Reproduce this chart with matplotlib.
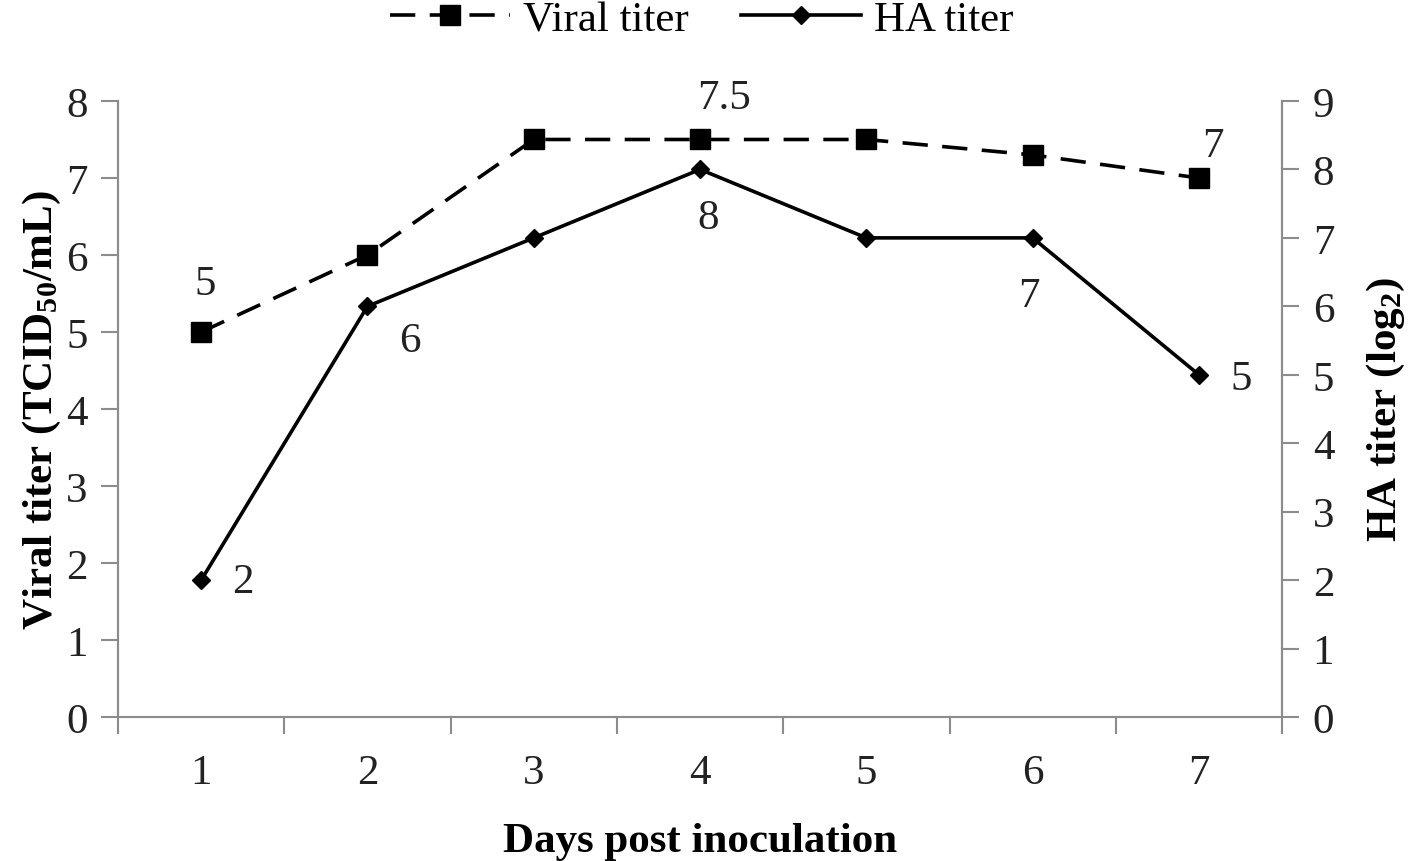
import matplotlib
matplotlib.use('Agg')
import matplotlib.pyplot as plt

plt.rcParams['font.family'] = ['Liberation Serif', 'DejaVu Serif']
plt.rcParams['mathtext.fontset'] = 'custom'
plt.rcParams['mathtext.rm'] = 'Liberation Serif:bold'
plt.rcParams['mathtext.it'] = 'Liberation Serif:bold'
plt.rcParams['mathtext.bf'] = 'Liberation Serif:bold'

# 数据 ---------------------------------------------------------
days = [1, 2, 3, 4, 5, 6, 7]
viral_titer = [5, 6, 7.5, 7.5, 7.5, 7.3, 7]
ha_titer = [2, 6, 7, 8, 7, 7, 5]

# 标注：(索引, 文本, 偏移px)
viral_notes = [(0, '5', (4, 48)), (3, '7.5', (24, 42)), (6, '7', (14, 32))]
ha_notes = [(0, '2', (42, -2)), (1, '6', (42, -34)), (3, '8', (8, -48)),
            (5, '7', (-4, -58)), (6, '5', (42, -4))]

fs = 31
gray = '#8c8c8c'
txt = '#222222'

fig = plt.figure(figsize=(14.12, 8.62), dpi=100)
ax = fig.add_axes([0.0836, 0.167, 0.8244, 0.7147])
ax2 = ax.twinx()

l1, = ax.plot(days, viral_titer, color='black', lw=2.6, ls=(0, (7, 4)),
              marker='s', ms=14, label='Viral titer')
l2, = ax2.plot(days, ha_titer, color='black', lw=2.6, ls='-',
               marker='D', ms=9, label='HA titer')

ax.set_xlim(0.5, 7.5)
ax.set_ylim(0, 8)
ax2.set_ylim(0, 9)
ax.set_yticks(range(0, 9))
ax2.set_yticks(range(0, 10))
ax.set_xticks(days)
ax.set_xticks([d + 0.5 for d in [0] + days], minor=True)

for a in (ax, ax2):
    for s in a.spines.values():
        s.set_color(gray)
        s.set_linewidth(1.5)
    a.spines['top'].set_visible(False)
    a.tick_params(axis='both', colors=gray, labelcolor=txt, labelsize=fs,
                  width=1.5, length=12, direction='out')

ax.tick_params(axis='x', which='major', length=0, pad=26)
ax.tick_params(axis='x', which='minor', length=12, width=1.5, colors=gray)
ax.tick_params(axis='y', pad=10)
ax2.tick_params(axis='y', pad=10)

ax.set_xlabel('Days post inoculation', fontsize=fs, fontweight='bold', labelpad=22)
ax.set_ylabel('Viral titer (TCID$_{50}$/mL)', fontsize=fs, fontweight='bold', labelpad=2)
ax2.set_ylabel('HA titer (log$_2$)', fontsize=fs, fontweight='bold', labelpad=22)

for i, t, off in viral_notes:
    ax.annotate(t, (days[i], viral_titer[i]), xytext=off, textcoords='offset pixels',
                ha='center', va='center', fontsize=fs, color=txt)
for i, t, off in ha_notes:
    ax2.annotate(t, (days[i], ha_titer[i]), xytext=off, textcoords='offset pixels',
                 ha='center', va='center', fontsize=fs, color=txt)

fig.legend(handles=[l1, l2], loc='center', bbox_to_anchor=(0.497, 0.976),
           ncol=2, frameon=False, fontsize=fs, handlelength=2.8,
           handletextpad=0.3, columnspacing=1.2)

fig.savefig('out.png', dpi=100)
